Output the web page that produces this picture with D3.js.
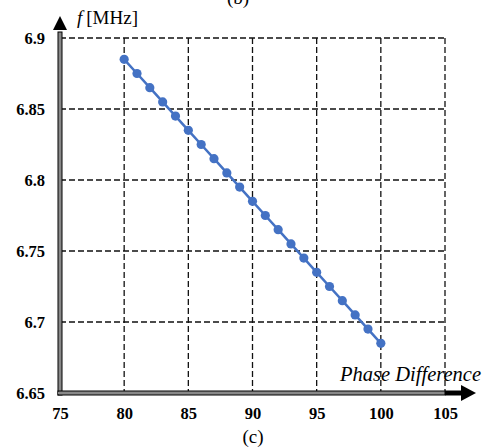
<!DOCTYPE html>
<html>
<head>
<meta charset="utf-8">
<script src="https://cdn.jsdelivr.net/npm/d3@7"></script>
<style>
  body { margin: 0; background: #fff; }
  text { font-family: "Liberation Serif", "Times New Roman", serif; }
</style>
</head>
<body>
<div id="chart"></div>
<script>
// phase difference (x) and frequency in MHz (y)
var phase = [80, 81, 82, 83, 84, 85, 86, 87, 88, 89, 90, 91, 92, 93, 94, 95, 96, 97, 98, 99, 100];
var freq = [6.885, 6.875, 6.865, 6.855, 6.845, 6.835, 6.825, 6.815, 6.805, 6.795, 6.785,
            6.775, 6.765, 6.755, 6.745, 6.735, 6.725, 6.715, 6.705, 6.695, 6.685];
var xTicks = [75, 80, 85, 90, 95, 100, 105];
var yTicks = [6.65, 6.7, 6.75, 6.8, 6.85, 6.9];
var yTickLabels = ["6.65", "6.7", "6.75", "6.8", "6.85", "6.9"];

var W = 489, H = 448;
var margin = {top: 38, right: 44, bottom: 55, left: 60};
var width = W - margin.left - margin.right;
var height = H - margin.top - margin.bottom;

var svg = d3.select("#chart").append("svg")
    .attr("width", W)
    .attr("height", H);

var g = svg.append("g")
    .attr("transform", "translate(" + margin.left + "," + margin.top + ")");

var x = d3.scaleLinear().domain([75, 105]).range([0, width]);
var y = d3.scaleLinear().domain([6.65, 6.9]).range([height, 0]);

//dashed grid
g.selectAll("line.vgrid")
  .data(xTicks.slice(1))
  .enter().append("line")
    .attr("class", "vgrid")
    .attr("x1", function(d) { return x(d); })
    .attr("x2", function(d) { return x(d); })
    .attr("y1", 0)
    .attr("y2", height)
    .attr("stroke", "#111")
    .attr("stroke-width", 1.3)
    .attr("stroke-dasharray", "6,3");

g.selectAll("line.hgrid")
  .data(yTicks.slice(1))
  .enter().append("line")
    .attr("class", "hgrid")
    .attr("x1", 0)
    .attr("x2", width)
    .attr("y1", function(d) { return y(d); })
    .attr("y2", function(d) { return y(d); })
    .attr("stroke", "#111")
    .attr("stroke-width", 1.3)
    .attr("stroke-dasharray", "6,3");

// tick labels via axes (no domain / tick lines)
var xAxis = d3.axisBottom(x).tickValues(xTicks).tickSize(0).tickPadding(14)
    .tickFormat(d3.format("d"));
var yAxis = d3.axisLeft(y).tickValues(yTicks).tickSize(0).tickPadding(15)
    .tickFormat(function(d, i) { return yTickLabels[i]; });

var gx = g.append("g").attr("transform", "translate(0," + height + ")").call(xAxis);
var gy = g.append("g").call(yAxis);
[gx, gy].forEach(function(a) {
  a.attr("font-family", null);
  a.select(".domain").remove();
  a.selectAll("text")
    .attr("fill", "#000")
    .style("font-family", "'Liberation Serif', serif")
    .style("font-weight", "bold")
    .style("font-size", "16.5px");
});
gy.selectAll("text").attr("dy", "0.35em");

// double-line axes
var axisCol = "#000";
// y axis
g.append("rect")
  .attr("x", -2).attr("y", -6).attr("width", 4).attr("height", height + 8)
  .attr("fill", "#888").attr("stroke", axisCol).attr("stroke-width", 1);
// x axis
g.append("rect")
  .attr("x", -2).attr("y", height - 2).attr("width", x(105) + 2).attr("height", 4)
  .attr("fill", "#888").attr("stroke", axisCol).attr("stroke-width", 1);
g.append("rect")
  .attr("x", -2).attr("y", height - 1).attr("width", 4).attr("height", 2)
  .attr("fill", "#888");
// x extension to arrow
g.append("line")
  .attr("x1", x(105)).attr("x2", x(105) + 18)
  .attr("y1", height).attr("y2", height)
  .attr("stroke", axisCol).attr("stroke-width", 5);

// arrows
g.append("path")
  .attr("d", "M" + (x(105) + 16) + "," + (height - 8) + " L" + (x(105) + 31) + "," + height +
             " L" + (x(105) + 16) + "," + (height + 8) + " Z")
  .attr("fill", axisCol);
g.append("path")
  .attr("d", "M-7,-8 L0,-22 L7,-8 Z")
  .attr("fill", axisCol);

// data line + markers
var line = d3.line()
  .x(function(d, i) { return x(phase[i]); })
  .y(function(d) { return y(d); });

g.append("path")
  .datum(freq)
  .attr("d", line)
  .attr("fill", "none")
  .attr("stroke", "#4472C4")
  .attr("stroke-width", 2.5);

g.selectAll("circle.pt")
  .data(freq)
  .enter().append("circle")
    .attr("class", "pt")
    .attr("cx", function(d, i) { return x(phase[i]); })
    .attr("cy", function(d) { return y(d); })
    .attr("r", 4.6)
    .attr("fill", "#4472C4");

// labels
var fl = svg.append("text")
  .attr("x", 77).attr("y", 24)
  .style("font-size", "19px")
  .attr("fill", "#000");
fl.append("tspan").style("font-style", "italic").text("f");
fl.append("tspan").attr("dx", 4).text("[MHz]");

svg.append("text")
  .attr("x", 481).attr("y", 381)
  .attr("text-anchor", "end")
  .style("font-size", "20.5px")
  .style("font-style", "italic")
  .attr("fill", "#000")
  .text("Phase Difference");

svg.append("text")
  .attr("x", 253).attr("y", 443)
  .attr("text-anchor", "middle")
  .style("font-size", "19px")
  .attr("fill", "#000")
  .text("(c)");

svg.append("text")
  .attr("x", 238).attr("y", 4)
  .attr("text-anchor", "middle")
  .style("font-size", "19px")
  .attr("fill", "#000")
  .text("(b)");
</script>
</body>
</html>
